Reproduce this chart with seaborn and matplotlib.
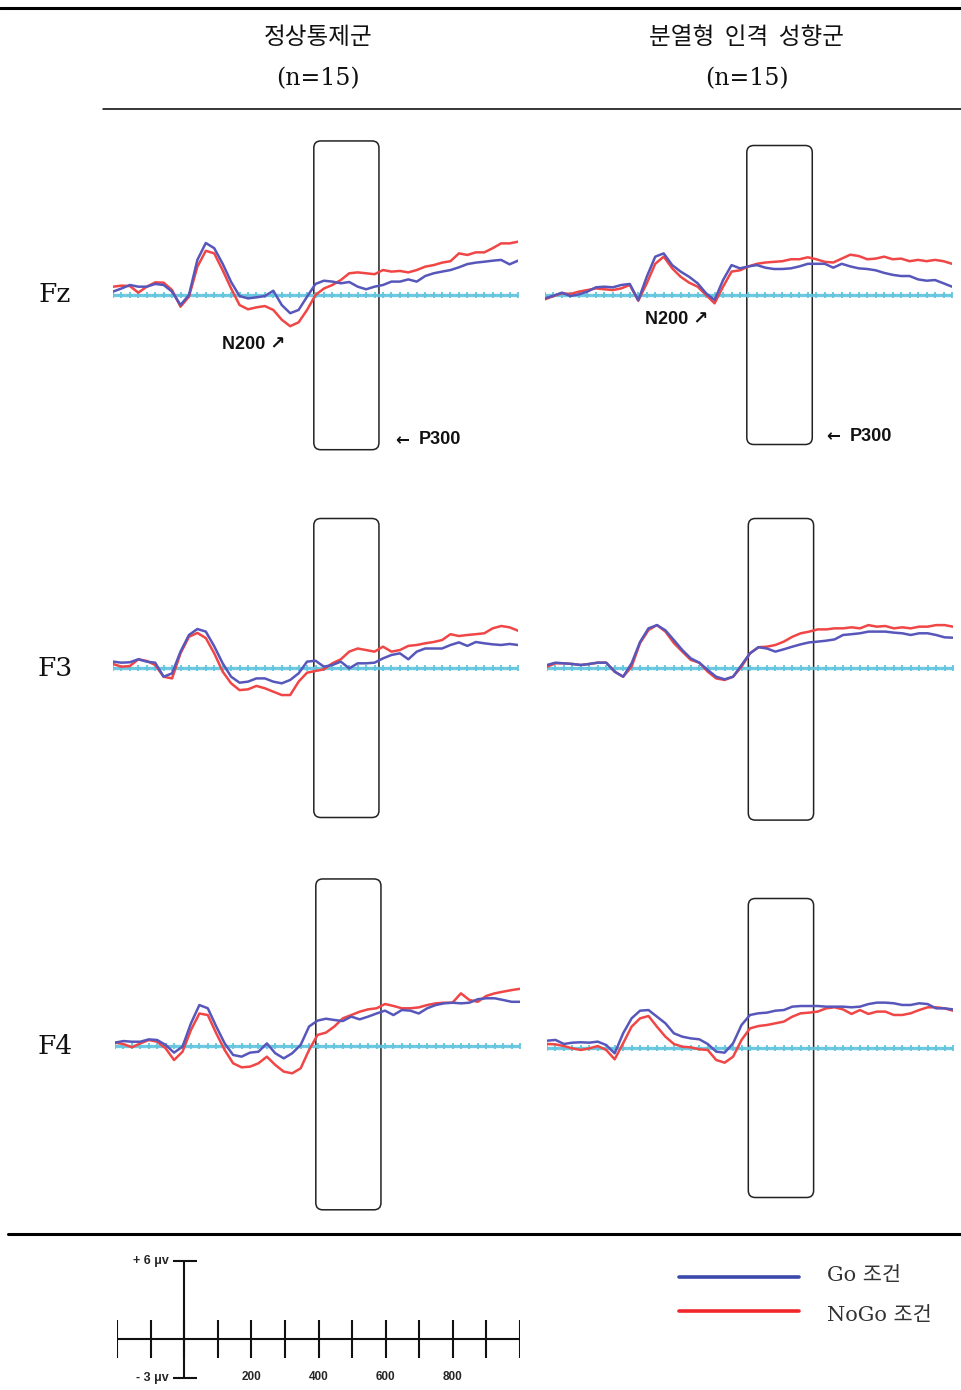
import numpy as np
import pandas as pd
import matplotlib
matplotlib.use("Agg")
import matplotlib.pyplot as plt
from matplotlib.patches import FancyBboxPatch
import seaborn as sns

# time axis (ms), one sample every 25 ms
times = np.arange(-200, 1001, 25)

groups = ["정상통제군", "분열형 인격 성향군"]
group_n = ["(n=15)", "(n=15)"]
electrodes = ["Fz", "F3", "F4"]
conditions = ["Go 조건", "NoGo 조건"]

# grand-average amplitudes (uV)
fz_ctrl_go = [0.26, 0.5, 0.77, 0.64, 0.64, 0.85, 0.77, 0.26, -0.77, 0.0, 2.7, 4.0, 3.6, 2.4, 1.0, -0.08, -0.26,
              -0.18, -0.08, 0.33, -0.77, -1.4, -1.15, -0.13, 0.85, 1.1, 1.03, 0.9, 1.0, 0.64, 0.44, 0.64, 0.77,
              1.03, 1.03, 1.2, 1.03, 1.46, 1.67, 1.8, 1.92, 2.13, 2.38, 2.49, 2.56, 2.64, 2.7, 2.36, 2.64]
fz_ctrl_nogo = [0.64, 0.72, 0.69, 0.18, 0.64, 0.97, 0.95, 0.38, -0.9, -0.13, 2.18, 3.4, 3.2, 1.9, 0.5, -0.77, -1.1,
                -0.95, -0.85, -1.15, -1.9, -2.4, -2.1, -1.15, 0.0, 0.5, 0.77, 1.15, 1.67, 1.74, 1.67, 1.6, 1.92,
                1.8, 1.85, 1.74, 1.92, 2.18, 2.3, 2.49, 2.6, 3.2, 3.08, 3.28, 3.28, 3.6, 3.97, 3.97, 4.1]
fz_spd_go = [-0.26, -0.05, 0.18, -0.08, 0.05, 0.26, 0.59, 0.64, 0.59, 0.77, 0.85, -0.4, 1.4, 2.95, 3.2, 2.3, 1.8,
             1.4, 0.9, 0.13, -0.38, 1.15, 2.3, 2.05, 2.2, 2.3, 2.1, 2.0, 2.0, 2.05, 2.2, 2.4, 2.4, 2.4, 2.1, 2.4,
             2.2, 2.05, 2.0, 1.9, 1.7, 1.55, 1.46, 1.46, 1.2, 1.1, 1.15, 0.9, 0.64]
fz_spd_nogo = [-0.33, -0.08, 0.13, 0.08, 0.26, 0.38, 0.51, 0.44, 0.38, 0.51, 0.77, -0.44, 0.9, 2.4, 2.95, 2.05,
               1.4, 0.95, 0.64, 0.0, -0.64, 0.64, 1.8, 1.9, 2.2, 2.4, 2.5, 2.55, 2.6, 2.75, 2.75, 2.9, 2.75, 2.55,
               2.5, 2.8, 3.1, 3.0, 2.75, 2.8, 2.95, 2.75, 2.8, 2.6, 2.7, 2.6, 2.7, 2.6, 2.4]
f3_ctrl_go = [0.49, 0.41, 0.44, 0.67, 0.49, 0.41, -0.67, -0.41, 1.26, 2.54, 3.0, 2.8, 1.67, 0.36, -0.67, -1.13,
              -1.05, -0.8, -0.8, -1.05, -1.18, -0.92, -0.41, 0.49, 0.56, 0.1, 0.23, 0.49, -0.03, 0.36, 0.36, 0.41,
              0.74, 1.0, 1.13, 0.67, 1.26, 1.5, 1.5, 1.5, 1.77, 1.97, 1.7, 2.0, 1.9, 1.82, 1.77, 1.85, 1.77]
f3_ctrl_nogo = [0.31, 0.1, 0.15, 0.67, 0.54, 0.23, -0.67, -0.8, 1.13, 2.4, 2.7, 2.3, 1.13, -0.28, -1.18, -1.7,
                -1.64, -1.38, -1.56, -1.82, -2.08, -2.08, -1.05, -0.36, -0.23, -0.1, 0.36, 0.67, 1.26, 1.5, 1.38,
                1.26, 1.64, 1.26, 1.38, 1.7, 1.77, 1.9, 2.0, 2.15, 2.6, 2.46, 2.54, 2.6, 2.67, 3.05, 3.23, 3.13,
                2.87]
f3_spd_go = [0.23, 0.41, 0.36, 0.31, 0.23, 0.31, 0.41, 0.41, -0.28, -0.67, 0.36, 2.0, 3.05, 3.3, 2.9, 2.15, 1.38,
             0.74, 0.41, -0.15, -0.67, -0.87, -0.67, 0.23, 1.13, 1.6, 1.5, 1.26, 1.44, 1.64, 1.82, 1.97, 2.03, 2.1,
             2.2, 2.54, 2.6, 2.67, 2.8, 2.8, 2.8, 2.72, 2.67, 2.54, 2.67, 2.67, 2.54, 2.36, 2.33]
f3_spd_nogo = [0.1, 0.36, 0.36, 0.31, 0.23, 0.31, 0.41, 0.41, -0.28, -0.67, 0.1, 1.92, 2.92, 3.3, 2.8, 1.92, 1.26,
               0.62, 0.41, -0.28, -0.8, -0.92, -0.67, 0.1, 1.13, 1.6, 1.64, 1.77, 2.03, 2.4, 2.67, 2.8, 2.97, 2.97,
               3.05, 3.05, 3.13, 3.05, 3.3, 3.18, 3.23, 3.05, 3.13, 3.05, 3.18, 3.18, 3.3, 3.3, 3.18]
f4_ctrl_go = [0.26, 0.38, 0.33, 0.33, 0.51, 0.46, 0.08, -0.51, -0.05, 1.74, 3.15, 2.9, 1.5, 0.2, -0.69, -0.82,
              -0.51, -0.44, 0.2, -0.56, -0.95, -0.56, 0.08, 1.5, 1.95, 2.1, 2.0, 1.92, 2.26, 2.05, 2.26, 2.5, 2.72,
              2.38, 2.77, 2.72, 2.5, 2.9, 3.15, 3.28, 3.33, 3.28, 3.33, 3.6, 3.67, 3.67, 3.54, 3.4, 3.4]
f4_ctrl_nogo = [0.26, 0.15, -0.1, 0.2, 0.46, 0.33, -0.18, -1.08, -0.44, 1.23, 2.5, 2.38, 0.97, -0.31, -1.33, -1.64,
                -1.59, -1.33, -0.82, -1.46, -1.97, -2.1, -1.72, -0.31, 0.85, 1.03, 1.5, 2.13, 2.38, 2.64, 2.82, 2.9,
                3.23, 3.08, 2.9, 2.9, 2.97, 3.15, 3.28, 3.33, 3.33, 4.05, 3.54, 3.4, 3.85, 4.05, 4.18, 4.3, 4.4]
f4_spd_go = [0.56, 0.62, 0.31, 0.41, 0.44, 0.41, 0.49, 0.23, -0.41, 1.13, 2.28, 2.87, 2.92, 2.41, 1.9, 1.13, 0.87,
             0.74, 0.67, 0.31, -0.28, -0.36, 0.36, 1.77, 2.54, 2.67, 2.72, 2.87, 2.92, 3.18, 3.23, 3.23, 3.23, 3.18,
             3.18, 3.18, 3.13, 3.18, 3.38, 3.49, 3.49, 3.44, 3.31, 3.31, 3.44, 3.38, 3.05, 3.05, 2.97]
f4_spd_nogo = [0.31, 0.28, 0.15, -0.03, -0.15, -0.03, 0.15, -0.15, -0.87, 0.36, 1.64, 2.28, 2.46, 1.64, 0.87, 0.31,
               0.1, 0.05, -0.1, -0.15, -0.92, -1.13, -0.67, 0.62, 1.51, 1.69, 1.77, 1.9, 2.03, 2.41, 2.67, 2.72,
               2.8, 3.05, 3.13, 2.97, 2.62, 2.92, 2.62, 2.8, 2.8, 2.54, 2.54, 2.67, 2.92, 3.13, 3.13, 3.05, 2.87]

waves = [[(fz_ctrl_go, fz_ctrl_nogo), (fz_spd_go, fz_spd_nogo)],
         [(f3_ctrl_go, f3_ctrl_nogo), (f3_spd_go, f3_spd_nogo)],
         [(f4_ctrl_go, f4_ctrl_nogo), (f4_spd_go, f4_spd_nogo)]]

# P300 window (ms) and box extent (uV) per panel
p300_window = (395, 588)
box_extent = [[(11.85, -11.9), (11.5, -11.5)],
              [(11.5, -11.5), (11.5, -11.7)],
              [(12.85, -12.6), (11.5, -11.5)]]

# scale bar
scale_ticks = np.arange(-200, 1001, 100)
scale_labels = [200, 400, 600, 800]
scale_uv = (6, -3)

W, H = 962, 1390
PX_UV = 13.0
GO_COL = "#5757bb"
NOGO_COL = "#f04646"
BASE_COL = "#62c5de"

sns.set_style("white")
fig = plt.figure(figsize=(W / 100, H / 100), dpi=100)


def px_axes(x0, y0, x1, y1, z=1):
    return fig.add_axes([x0 / W, 1 - y1 / H, (x1 - x0) / W, (y1 - y0) / H], zorder=z)


# background layer in pixel coordinates for header, labels, rules, legend
bg = px_axes(0, 0, W, H, z=0)
bg.set_xlim(0, W)
bg.set_ylim(H, 0)
bg.axis("off")
bg.plot([0, W], [8, 8], color="black", lw=2.2)
bg.plot([103, W], [109, 109], color="black", lw=1.1)
bg.plot([8, W], [1234, 1234], color="black", lw=2.2)
kor = ["Noto Sans CJK KR", "DejaVu Sans"]
for cx, g, n in zip([318, 747], groups, group_n):
    bg.text(cx, 38, g.replace(" ", "  "), ha="center", va="center", fontsize=17, family=kor,
            fontweight="medium", color="#111")
    bg.text(cx, 79, n, ha="center", va="center", fontsize=17, family=["DejaVu Serif"], color="#111")
for cy, e in zip([295, 668, 1046], electrodes):
    bg.text(55, cy, e, ha="center", va="center", fontsize=19, family=["DejaVu Serif"], color="#111")
# legend
for ly, ty, c, lab in zip([1277, 1311], [1276, 1316], [GO_COL, NOGO_COL], conditions):
    bg.plot([679, 799], [ly, ly], color="#3b49ad" if c == GO_COL else "#f0282d", lw=2.6)
    bg.text(827, ty, lab, ha="left", va="center", fontsize=15, family=["DejaVu Serif", "Noto Sans CJK KR"],
            color="#333")

# panel pixel geometry: (left, right, baseline)
geom = [[(113, 518, 295), (545, 952, 295)],
        [(113, 518, 668), (547, 953, 668)],
        [(115, 520, 1046), (547, 953, 1048)]]

lab_font = ["Liberation Sans", "DejaVu Sans"]
for r in range(3):
    for c in range(2):
        xl, xr, base = geom[r][c]
        ax = px_axes(xl, base - 190, xr, base + 190)
        go, nogo = waves[r][c]
        df = pd.DataFrame({"time": np.concatenate([times, times]),
                           "uv": np.concatenate([nogo, go]),
                           "cond": ["NoGo"] * len(times) + ["Go"] * len(times)})
        sns.lineplot(x=times, y=np.zeros(len(times)), ax=ax, color=BASE_COL, lw=2.4, marker="P",
                     markersize=4.5, markeredgewidth=0, alpha=0.9)
        sns.lineplot(data=df, x="time", y="uv", hue="cond", hue_order=["NoGo", "Go"],
                     palette={"Go": GO_COL, "NoGo": NOGO_COL}, lw=1.8, legend=False, ax=ax, sort=False,
                     solid_joinstyle="round", solid_capstyle="round")
        ax.set_xlim(-200, 1000)
        ax.set_ylim(-190 / PX_UV, 190 / PX_UV)
        ax.axis("off")
        ms_per_px = 1200 / (xr - xl)
        top, bot = box_extent[r][c]
        box = FancyBboxPatch((p300_window[0], bot), p300_window[1] - p300_window[0], top - bot,
                             boxstyle="round,pad=0,rounding_size=%.1f" % (7 * ms_per_px),
                             mutation_aspect=(1 / PX_UV) / ms_per_px,
                             fc="none", ec="#222", lw=1.1, clip_on=False)
        ax.add_patch(box)
        if r == 0:
            n200 = (123, -3.77) if c == 0 else (95, -1.92)
            p300 = (636, -11.15) if c == 0 else (629, -10.85)
            ax.text(n200[0], n200[1], "N200 ↗", ha="left", va="center", fontsize=13, fontweight="bold",
                    family=lab_font, color="#111")
            ax.text(p300[0], p300[1], "←", ha="left", va="center", fontsize=12, fontweight="bold",
                    family=["DejaVu Sans"], color="#111")
            ax.text(p300[0] + 24 * ms_per_px, p300[1], "P300", ha="left", va="center", fontsize=13,
                    fontweight="bold", family=lab_font, color="#111")

# scale bar with the same ms / uV scale as the panels
sb = px_axes(117, 1339 - 100, 520, 1339 + 100)
sb.set_xlim(-200, 1000)
sb.set_ylim(-100 / PX_UV, 100 / PX_UV)
sb.axis("off")
sb.plot([-200, 1000], [0, 0], color="#111", lw=1.5)
sb.vlines(scale_ticks, -19 / PX_UV, 19 / PX_UV, color="#111", lw=1.5)
sb.vlines(0, scale_uv[1], scale_uv[0], color="#111", lw=1.5)
sb.hlines(list(scale_uv), -33, 38, color="#111", lw=1.5)
sb.text(-45, scale_uv[0], "+ 6 μv", ha="right", va="center", fontsize=9, fontweight="bold", family=lab_font)
sb.text(-45, scale_uv[1], "- 3 μv", ha="right", va="center", fontsize=9, fontweight="bold", family=lab_font)
for t in scale_labels:
    sb.text(t, -2.9, str(t), ha="center", va="center", fontsize=8.5, fontweight="bold", family=lab_font)

fig.savefig("out.png", dpi=100)
